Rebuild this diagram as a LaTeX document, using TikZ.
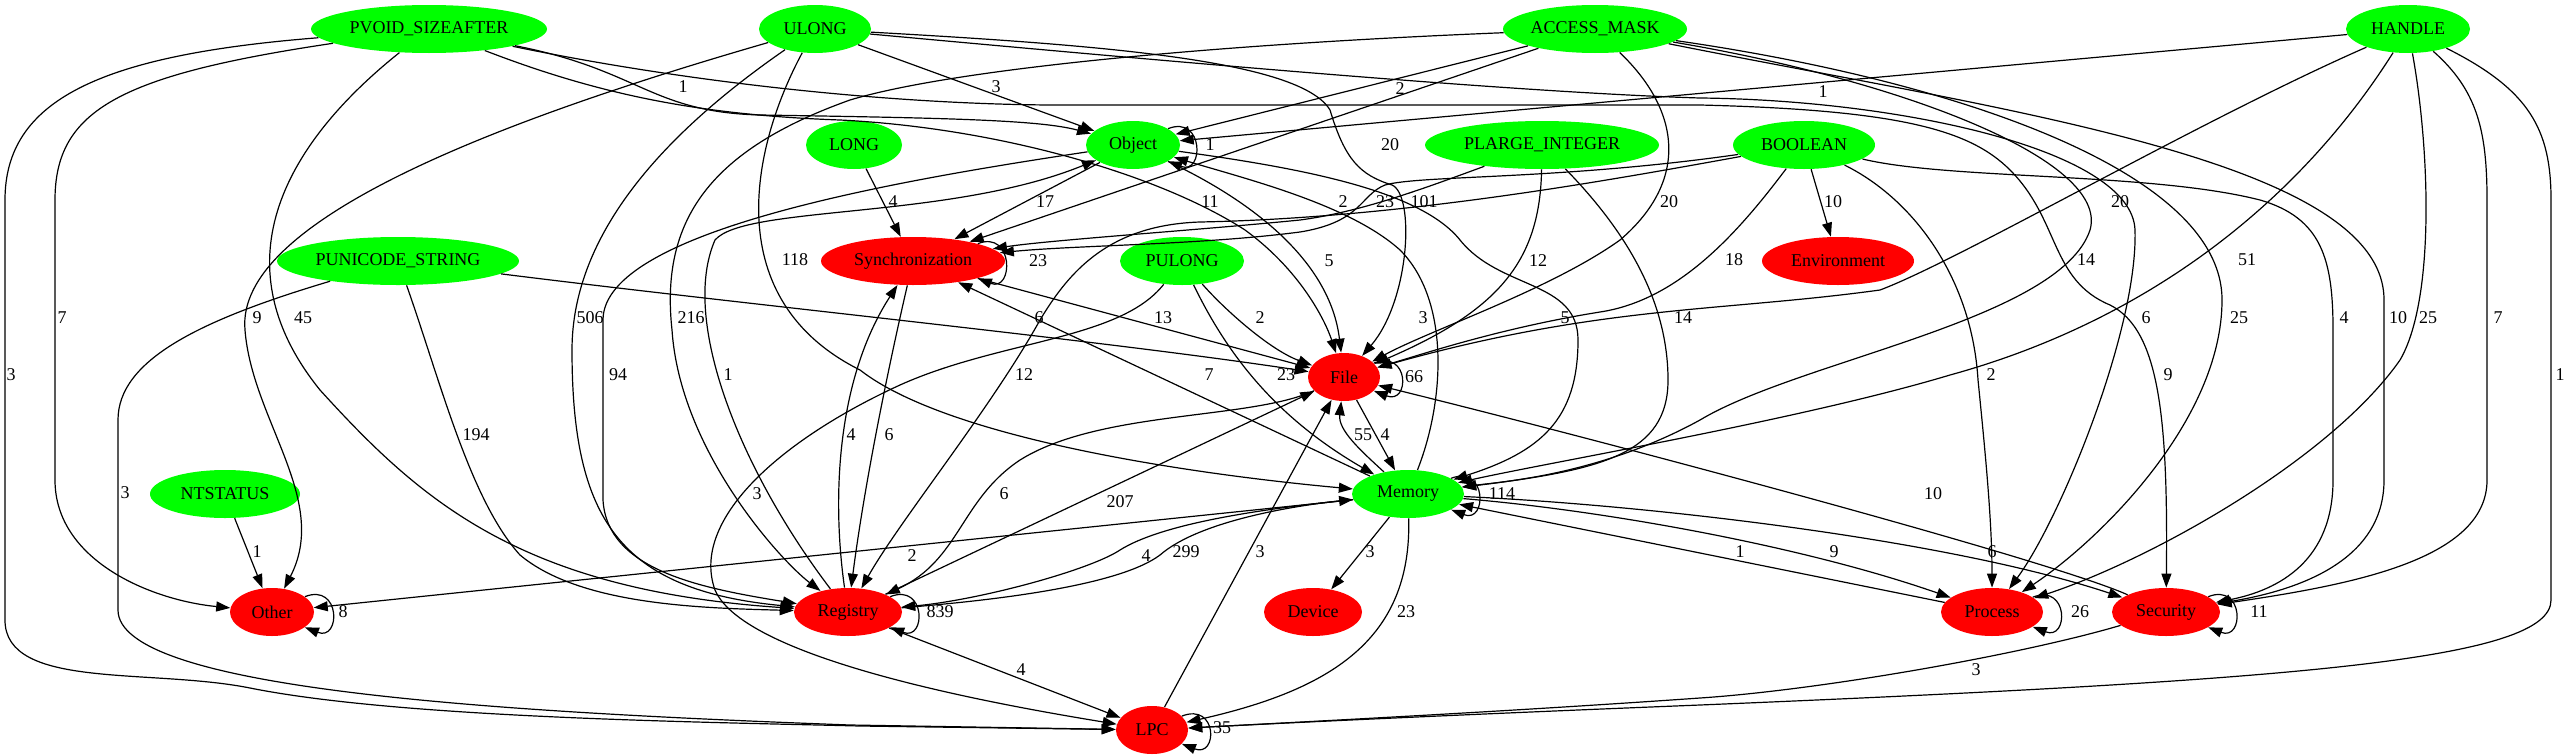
\documentclass[tikz,border=0pt]{standalone}
\usepackage{fontspec}
\setmainfont{Liberation Serif}
\usetikzlibrary{arrows.meta,shapes.geometric}

\definecolor{gvgreen}{RGB}{0,255,0}
\definecolor{gvred}{RGB}{255,0,0}

\begin{document}
\begin{tikzpicture}[x=0.5pt, y=-0.5pt, >={Triangle[length=7pt,width=5pt]},
  typ/.style={ellipse, fill=gvgreen, inner sep=0pt, minimum height=24pt, font=\fontsize{9}{10}\selectfont},
  cat/.style={ellipse, fill=gvred, inner sep=0pt, minimum height=24pt, font=\fontsize{9}{10}\selectfont},
  conn/.style={->, line width=0.6pt},
  lbl/.style={font=\fontsize{9}{10}\selectfont, inner sep=0pt}]
  \useasboundingbox (0,0) rectangle (2567,755);

  % Types (green)
  \node[typ, minimum width=118pt] (pvoid) at (429,29) {PVOID\_SIZEAFTER};
  \node[typ, minimum width=56pt] (ulong) at (815,29) {ULONG};
  \node[typ, minimum width=92pt] (amask) at (1595,29) {ACCESS\_MASK};
  \node[typ, minimum width=62pt] (handle) at (2408,29) {HANDLE};
  \node[typ, minimum width=48pt] (long) at (854,145) {LONG};
  \node[typ, minimum width=47pt] (object) at (1133,145) {Object};
  \node[typ, minimum width=117pt] (plarge) at (1542,145) {PLARGE\_INTEGER};
  \node[typ, minimum width=71pt] (boolean) at (1804,145) {BOOLEAN};
  \node[typ, minimum width=121pt] (punicode) at (398,261) {PUNICODE\_STRING};
  \node[typ, minimum width=62pt] (pulong) at (1182,261) {PULONG};
  \node[typ, minimum width=75pt] (ntstatus) at (225,494) {NTSTATUS};
  \node[typ, minimum width=56pt] (memory) at (1408,494) {Memory};

  % Categories (red)
  \node[cat, minimum width=92pt] (sync) at (913,261) {Synchronization};
  \node[cat, minimum width=76pt] (env) at (1838,261) {Environment};
  \node[cat, minimum width=36pt] (file) at (1344,377) {File};
  \node[cat, minimum width=42pt] (other) at (272,612) {Other};
  \node[cat, minimum width=54pt] (registry) at (848,612) {Registry};
  \node[cat, minimum width=49pt] (device) at (1313,612) {Device};
  \node[cat, minimum width=51pt] (process) at (1992,612) {Process};
  \node[cat, minimum width=54pt] (security) at (2166,612) {Security};
  \node[cat, minimum width=36pt] (lpc) at (1152,730) {LPC};

  % PVOID_SIZEAFTER
  \draw[conn] (pvoid) .. controls (640,70) and (650,112) .. (760,115) .. controls (950,118) and (1040,120) .. (object) node[lbl] at (683,87) {1};
  \draw[conn] (pvoid) .. controls (600,95) and (700,115) .. (840,120) .. controls (1000,128) and (1160,175) .. (1245,230) .. controls (1300,270) and (1325,320) .. (file) node[lbl] at (1210,202) {11};
  \draw[conn] (pvoid) .. controls (700,85) and (900,104) .. (1050,105) -- (1700,105) .. controls (1900,110) and (1970,130) .. (2010,170) .. controls (2060,220) and (2050,280) .. (2110,305) .. controls (2160,330) and (2168,420) .. (security) node[lbl] at (2168,375) {9};
  \draw[conn] (pvoid) .. controls (290,140) and (215,260) .. (320,390) .. controls (420,500) and (520,590) .. (registry) node[lbl] at (303,318) {45};
  \draw[conn] (pvoid) .. controls (120,75) and (55,110) .. (55,200) -- (55,480) .. controls (55,560) and (150,600) .. (other) node[lbl] at (62,318) {7};
  \draw[conn] (pvoid) .. controls (100,55) and (5,100) .. (5,200) -- (5,620) .. controls (5,690) and (150,668) .. (250,688) .. controls (400,718) and (700,722) .. (860,726) -- (lpc) node[lbl] at (11,375) {3};

  % ULONG
  \draw[conn] (ulong) -- (object) node[lbl] at (996,87) {3};
  \draw[conn] (ulong) .. controls (1100,45) and (1300,60) .. (1330,110) .. controls (1345,160) and (1360,175) .. (1392,185) .. controls (1415,195) and (1410,300) .. (file) node[lbl] at (1424,202) {101};
  \draw[conn] (ulong) .. controls (750,150) and (720,300) .. (860,370) .. controls (950,440) and (1200,475) .. (memory) node[lbl] at (795,260) {118};
  \draw[conn] (ulong) .. controls (640,150) and (572,250) .. (572,350) .. controls (572,520) and (620,590) .. (registry) node[lbl] at (590,318) {506};
  \draw[conn] (ulong) .. controls (500,120) and (235,220) .. (245,330) .. controls (252,420) and (330,500) .. (other) node[lbl] at (257,318) {9};
  \draw[conn] (ulong) .. controls (1100,55) and (1500,92) .. (1700,98) .. controls (1900,100) and (2132,150) .. (2135,230) .. controls (2138,330) and (2060,520) .. (process) node[lbl] at (2146,318) {6};

  % ACCESS_MASK
  \draw[conn] (amask) -- (object) node[lbl] at (1400,89) {2};
  \draw[conn] (amask) -- (sync) node[lbl] at (1390,145) {20};
  \draw[conn] (amask) .. controls (1680,110) and (1690,180) .. (1620,240) .. controls (1550,290) and (1430,330) .. (file) node[lbl] at (1669,202) {20};
  \draw[conn] (amask) .. controls (1200,45) and (950,70) .. (850,100) .. controls (710,150) and (660,220) .. (672,330) .. controls (680,450) and (780,560) .. (registry) node[lbl] at (691,318) {216};
  \draw[conn] (amask) .. controls (1900,80) and (2110,160) .. (2090,230) .. controls (2060,320) and (1800,360) .. (1700,420) .. controls (1600,475) and (1500,482) .. (memory) node[lbl] at (2086,260) {14};
  \draw[conn] (amask) .. controls (1950,80) and (2222,170) .. (2222,300) .. controls (2222,420) and (2100,540) .. (process) node[lbl] at (2239,318) {25};
  \draw[conn] (amask) .. controls (2000,110) and (2384,160) .. (2384,300) -- (2384,480) .. controls (2384,560) and (2300,590) .. (security) node[lbl] at (2398,318) {10};

  % HANDLE
  \draw[conn] (handle) -- (object) node[lbl] at (1823,92) {1};
  \draw[conn] (handle) .. controls (2200,120) and (1960,260) .. (1880,290) .. controls (1720,312) and (1600,305) .. (file) node[lbl] at (2120,202) {20};
  \draw[conn] (handle) .. controls (2300,200) and (2150,320) .. (1950,375) .. controls (1800,420) and (1550,462) .. (memory) node[lbl] at (2247,260) {51};
  \draw[conn] (handle) .. controls (2430,150) and (2435,300) .. (2400,360) .. controls (2330,460) and (2150,560) .. (process) node[lbl] at (2428,318) {25};
  \draw[conn] (handle) .. controls (2477,90) and (2487,130) .. (2487,200) -- (2487,480) .. controls (2487,560) and (2350,585) .. (security) node[lbl] at (2498,318) {7};
  \draw[conn] (handle) .. controls (2530,90) and (2551,130) .. (2551,200) -- (2551,600) .. controls (2551,660) and (2300,680) .. (1700,705) .. controls (1500,713) and (1300,722) .. (lpc) node[lbl] at (2560,375) {1};

  % LONG, Object
  \draw[conn] (long) -- (sync) node[lbl] at (893,202) {4};
  \draw[conn] (object.25) .. controls +(36,-14) and +(36,14) .. (object.-25) node[lbl] at (1210,145) {1};
  \draw[conn] (object) -- (sync) node[lbl] at (1045,202) {17};
  \draw[conn] (object) .. controls (1250,200) and (1330,260) .. (file) node[lbl] at (1329,261) {5};
  \draw[conn] (object) .. controls (1300,168) and (1420,190) .. (1460,240) .. controls (1500,290) and (1578,280) .. (1578,340) .. controls (1578,420) and (1540,452) .. (memory) node[lbl] at (1565,318) {5};
  \draw[conn] (object) .. controls (900,180) and (603,230) .. (603,320) -- (603,500) .. controls (607,570) and (700,588) .. (registry) node[lbl] at (618,375) {94};

  % PLARGE_INTEGER
  \draw[conn] (plarge) .. controls (1420,190) and (1360,212) .. (1300,220) .. controls (1200,230) and (1050,240) .. (sync) node[lbl] at (1343,202) {2};
  \draw[conn] (plarge) .. controls (1540,260) and (1500,310) .. (file) node[lbl] at (1538,261) {12};
  \draw[conn] (plarge) .. controls (1625,230) and (1668,300) .. (1668,380) .. controls (1668,455) and (1600,470) .. (memory) node[lbl] at (1683,318) {14};

  % BOOLEAN
  \draw[conn] (boolean) -- (env) node[lbl] at (1833,202) {10};
  \draw[conn] (boolean) .. controls (1560,180) and (1420,175) .. (1385,185) .. controls (1360,195) and (1362,222) .. (1300,232) .. controls (1200,245) and (1080,245) .. (sync) node[lbl] at (1385,202) {23};
  \draw[conn] (boolean) .. controls (1600,182) and (1400,218) .. (1200,222) .. controls (1110,225) and (1070,270) .. (1040,320) .. controls (990,410) and (900,520) .. (registry) node[lbl] at (1024,375) {12};
  \draw[conn] (boolean) .. controls (1740,230) and (1680,300) .. (1600,312) .. controls (1500,328) and (1420,355) .. (file) node[lbl] at (1734,260) {18};
  \draw[conn] (boolean) .. controls (1915,200) and (1972,280) .. (1978,380) .. controls (1985,450) and (1992,520) .. (process) node[lbl] at (1991,375) {2};
  \draw[conn] (boolean) .. controls (1950,180) and (2150,172) .. (2260,200) .. controls (2322,218) and (2333,260) .. (2333,330) -- (2333,480) .. controls (2333,560) and (2280,590) .. (security) node[lbl] at (2344,318) {4};

  % PUNICODE_STRING
  \draw[conn] (punicode) .. controls (750,305) and (1100,340) .. (file) node[lbl] at (1039,318) {6};
  \draw[conn] (punicode) .. controls (440,380) and (470,500) .. (520,555) .. controls (580,605) and (700,608) .. (registry) node[lbl] at (476,435) {194};
  \draw[conn] (punicode) .. controls (200,320) and (118,360) .. (118,420) -- (118,610) .. controls (118,690) and (500,712) .. (850,725) -- (lpc) node[lbl] at (125,493) {3};

  % Synchronization
  \draw[conn] (sync.15) .. controls +(36,-14) and +(36,14) .. (sync.-15) node[lbl] at (1038,261) {23};
  \draw[conn] (sync) -- (file) node[lbl] at (1163,318) {13};
  \draw[conn] (sync) .. controls (890,360) and (865,480) .. (registry) node[lbl] at (889,435) {6};

  % PULONG
  \draw[conn] (pulong) .. controls (1225,310) and (1270,350) .. (file) node[lbl] at (1260,318) {2};
  \draw[conn] (pulong) .. controls (1230,360) and (1280,420) .. (memory) node[lbl] at (1286,375) {23};
  \draw[conn] (pulong) .. controls (1120,340) and (1000,340) .. (900,385) .. controls (780,440) and (690,520) .. (715,590) .. controls (745,660) and (1000,705) .. (lpc) node[lbl] at (757,494) {3};

  % NTSTATUS
  \draw[conn] (ntstatus) -- (other) node[lbl] at (257,552) {1};
  \draw[conn] (other.25) .. controls +(36,-14) and +(36,14) .. (other.-25) node[lbl] at (343,612) {8};

  % File
  \draw[conn] (file.25) .. controls +(36,-14) and +(36,14) .. (file.-25) node[lbl] at (1414,377) {66};
  \draw[conn] (file) -- (memory) node[lbl] at (1385,435) {4};
  \draw[conn] (file) .. controls (1250,420) and (1100,410) .. (1020,460) .. controls (960,500) and (960,560) .. (registry) node[lbl] at (1004,494) {6};

  % Memory
  \draw[conn] (memory.20) .. controls +(36,-14) and +(36,14) .. (memory.-20) node[lbl] at (1502,494) {114};
  \draw[conn] (memory) .. controls (1445,400) and (1450,300) .. (1400,250) .. controls (1350,205) and (1250,180) .. (object) node[lbl] at (1423,318) {3};
  \draw[conn] (memory) .. controls (1360,450) and (1338,430) .. (file) node[lbl] at (1363,435) {55};
  \draw[conn] (memory) -- (sync) node[lbl] at (1209,375) {7};
  \draw[conn] (memory) -- (other) node[lbl] at (912,556) {2};
  \draw[conn] (memory) .. controls (1250,510) and (1160,525) .. (1120,550) .. controls (1090,570) and (980,600) .. (registry) node[lbl] at (1146,556) {4};
  \draw[conn] (memory) -- (device) node[lbl] at (1370,552) {3};
  \draw[conn] (memory) .. controls (1412,640) and (1330,690) .. (lpc) node[lbl] at (1406,612) {23};
  \draw[conn] (memory) .. controls (1600,510) and (1800,545) .. (process) node[lbl] at (1834,552) {9};
  \draw[conn] (memory) .. controls (1650,505) and (1950,540) .. (security) node[lbl] at (1992,552) {6};

  % Registry
  \draw[conn] (registry.20) .. controls +(36,-14) and +(36,14) .. (registry.-20) node[lbl] at (940,612) {839};
  \draw[conn] (registry) .. controls (740,470) and (680,320) .. (715,240) .. controls (745,205) and (950,220) .. (object) node[lbl] at (728,375) {1};
  \draw[conn] (registry) .. controls (832,500) and (836,380) .. (sync) node[lbl] at (851,435) {4};
  \draw[conn] (registry) -- (file) node[lbl] at (1120,502) {207};
  \draw[conn] (registry) .. controls (1000,600) and (1120,585) .. (1160,555) .. controls (1200,520) and (1300,505) .. (memory) node[lbl] at (1186,552) {299};
  \draw[conn] (registry) -- (lpc) node[lbl] at (1021,670) {4};

  % LPC, Process, Security
  \draw[conn] (lpc.25) .. controls +(36,-14) and +(36,14) .. (lpc.-25) node[lbl] at (1222,728) {35};
  \draw[conn] (lpc) -- (file) node[lbl] at (1260,552) {3};
  \draw[conn] (process.20) .. controls +(36,-14) and +(36,14) .. (process.-20) node[lbl] at (2080,612) {26};
  \draw[conn] (process) -- (memory) node[lbl] at (1740,552) {1};
  \draw[conn] (security.20) .. controls +(36,-14) and +(36,14) .. (security.-20) node[lbl] at (2259,612) {11};
  \draw[conn] (security) .. controls (2050,560) and (1600,440) .. (file) node[lbl] at (1933,494) {10};
  \draw[conn] (security) .. controls (2020,655) and (1820,690) .. (1700,698) .. controls (1500,712) and (1300,722) .. (lpc) node[lbl] at (1976,670) {3};
\end{tikzpicture}
\end{document}
